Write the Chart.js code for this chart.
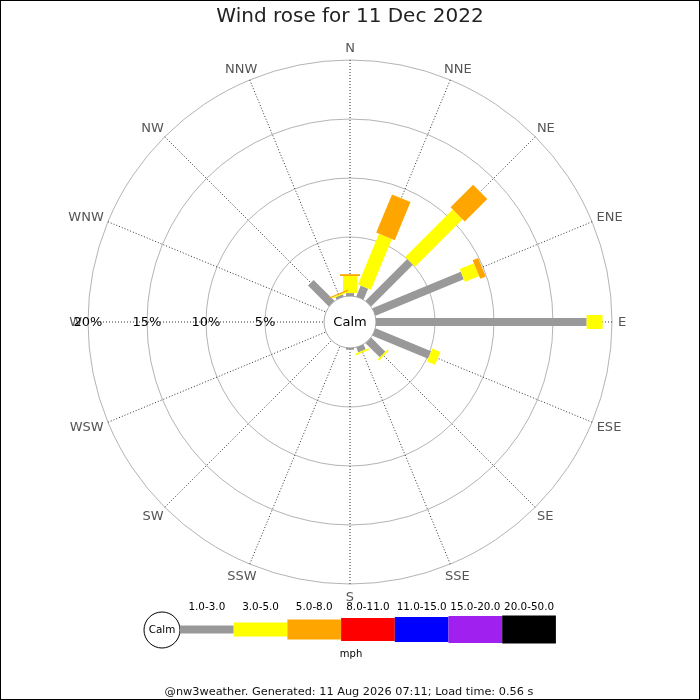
<!DOCTYPE html>
<html>
<head>
<meta charset="utf-8">
<script src="https://cdn.jsdelivr.net/npm/chart.js@4.4.1/dist/chart.umd.min.js"></script>
<style>
  html, body { margin: 0; padding: 0; background: #fff; }
  #wrap { width: 700px; height: 700px; }
</style>
</head>
<body>
<div id="wrap"><canvas id="c" width="700" height="700"></canvas></div>
<script>
// ---- data ----
const directions = ['N','NNE','NE','ENE','E','ESE','SE','SSE','S','SSW','SW','WSW','W','WNW','NW','NNW'];
const speedBands = ['1.0-3.0','3.0-5.0','5.0-8.0','8.0-11.0','11.0-15.0','15.0-20.0','20.0-50.0'];
// percentage of time per direction, per speed band (mph)
const band1to3   = [0.25, 1.0, 5.0, 8.1, 17.85, 5.1, 1.7, 0.45, 0.15, 0, 0, 0, 0, 0, 2.5, 0.2];
const band3to5   = [1.45, 4.65, 5.7, 1.3, 1.35, 0.75, 0.15, 0.15, 0, 0, 0, 0, 0, 0, 0, 0.1];
const band5to8   = [0.15, 3.5, 2.7, 0.5, 0, 0, 0, 0, 0, 0, 0, 0, 0, 0, 0, 0.1];
const band8to11  = [0, 0, 0, 0, 0, 0, 0, 0, 0, 0, 0, 0, 0, 0, 0, 0];
const band11to15 = [0, 0, 0, 0, 0, 0, 0, 0, 0, 0, 0, 0, 0, 0, 0, 0];
const band15to20 = [0, 0, 0, 0, 0, 0, 0, 0, 0, 0, 0, 0, 0, 0, 0, 0];
const band20to50 = [0, 0, 0, 0, 0, 0, 0, 0, 0, 0, 0, 0, 0, 0, 0, 0];
const tickValues = [5, 10, 15, 20];
const titleText = 'Wind rose for 11 Dec 2022';
const footerText = '@nw3weather. Generated: 11 Aug 2026 07:11; Load time: 0.56 s';
const unitText = 'mph';
const calmText = 'Calm';

// ---- styles ----
const bandColors = ['#999999','#ffff00','#ffa500','#ff0000','#0000ff','#a020f0','#000000'];
const bandWidths = [8, 14, 20, 23, 25, 27, 28];
const FONT = "'DejaVu Sans', 'Noto Sans', sans-serif";
const R_MIN = -2.2; // keeps the calm circle in the middle

const bandData = [band1to3, band3to5, band5to8, band8to11, band11to15, band15to20, band20to50];
const datasets = bandData.map((arr, k) => ({
  label: speedBands[k],
  data: arr,
  barColor: bandColors[k],
  barWidth: bandWidths[k],
  showLine: false,
  fill: false,
  pointRadius: 0,
  pointHoverRadius: 0,
  borderWidth: 0,
  borderColor: 'rgba(0,0,0,0)',
  backgroundColor: 'rgba(0,0,0,0)'
}));

const rosePlugin = {
  id: 'rose',
  beforeDraw(chart) {
    const ctx = chart.ctx;
    ctx.save();
    ctx.fillStyle = '#ffffff';
    ctx.fillRect(0, 0, chart.width, chart.height);
    ctx.restore();
  },
  beforeDatasetsDraw(chart) {
    const s = chart.scales.r, ctx = chart.ctx;
    ctx.save();
    // direction labels
    ctx.font = '13px ' + FONT;
    ctx.fillStyle = '#555555';
    ctx.textAlign = 'center';
    ctx.textBaseline = 'middle';
    chart.data.labels.forEach((lab, i) => {
      const p = s.getPointPosition(i, s.drawingArea + 6);
      const w = ctx.measureText(lab).width, h = 13;
      const ux = Math.cos(p.angle), uy = Math.sin(p.angle);
      ctx.fillText(lab, p.x + ux * w / 2, p.y + uy * h / 2 + 1);
    });
    // tick labels along the west axis
    ctx.fillStyle = '#000000';
    tickValues.forEach(v => {
      const d = s.getDistanceFromCenterForValue(v);
      ctx.fillText(v + '%', s.xCenter - d, s.yCenter + 0.5);
    });
    // calm circle
    const rc = s.getDistanceFromCenterForValue(0);
    ctx.beginPath();
    ctx.arc(s.xCenter, s.yCenter, rc, 0, Math.PI * 2);
    ctx.fillStyle = '#ffffff';
    ctx.fill();
    ctx.lineWidth = 1;
    ctx.strokeStyle = '#aaaaaa';
    ctx.stroke();
    ctx.fillStyle = '#000000';
    ctx.font = '13px ' + FONT;
    ctx.fillText(calmText, s.xCenter, s.yCenter + 0.5);
    ctx.restore();
  },
  afterDatasetsDraw(chart) {
    const s = chart.scales.r, ctx = chart.ctx;
    ctx.save();
    chart.data.labels.forEach((lab, i) => {
      let cum = 0;
      chart.data.datasets.forEach(ds => {
        const v = ds.data[i];
        if (!v) return;
        const r0 = s.getDistanceFromCenterForValue(cum);
        cum += v;
        const r1 = s.getDistanceFromCenterForValue(cum);
        const p0 = s.getPointPosition(i, r0), p1 = s.getPointPosition(i, r1);
        const nx = -Math.sin(p0.angle), ny = Math.cos(p0.angle), hw = ds.barWidth / 2;
        ctx.beginPath();
        ctx.moveTo(p0.x + nx * hw, p0.y + ny * hw);
        ctx.lineTo(p1.x + nx * hw, p1.y + ny * hw);
        ctx.lineTo(p1.x - nx * hw, p1.y - ny * hw);
        ctx.lineTo(p0.x - nx * hw, p0.y - ny * hw);
        ctx.closePath();
        ctx.fillStyle = ds.barColor;
        ctx.fill();
      });
    });
    ctx.restore();
  },
  afterDraw(chart) {
    const ctx = chart.ctx;
    ctx.save();
    // legend
    const lx = 180, step = 53.7, ly = 629.5;
    ctx.beginPath();
    ctx.arc(162, 630, 18, 0, Math.PI * 2);
    ctx.fillStyle = '#fff';
    ctx.fill();
    ctx.strokeStyle = '#000';
    ctx.lineWidth = 1;
    ctx.stroke();
    ctx.fillStyle = '#000';
    ctx.font = '10.4px ' + FONT;
    ctx.textAlign = 'center';
    ctx.textBaseline = 'middle';
    ctx.fillText(calmText, 162, 630.5);
    chart.data.datasets.forEach((ds, k) => {
      const x0 = lx + k * step;
      ctx.fillStyle = ds.barColor;
      ctx.fillRect(x0, ly - ds.barWidth / 2, step, ds.barWidth);
      ctx.fillStyle = '#000';
      ctx.fillText(ds.label, x0 + step / 2, 607);
    });
    ctx.font = '10px ' + FONT;
    ctx.fillText(unitText, 351, 654);
    // footer
    ctx.font = '11.3px ' + FONT;
    ctx.fillStyle = '#111';
    ctx.fillText(footerText, 349, 692);
    // frame
    ctx.strokeStyle = '#000';
    ctx.lineWidth = 1;
    ctx.strokeRect(0.5, 0.5, chart.width - 1, chart.height - 1);
    ctx.restore();
  }
};

new Chart(document.getElementById('c'), {
  type: 'radar',
  data: { labels: directions, datasets: datasets },
  options: {
    responsive: false,
    animation: false,
    devicePixelRatio: 1,
    layout: { padding: { left: 88, right: 88, top: 0, bottom: 116 } },
    plugins: {
      legend: { display: false },
      tooltip: { enabled: false },
      title: {
        display: true,
        text: titleText,
        color: '#222',
        font: { family: FONT, size: 20, weight: 'normal' },
        padding: { top: 5, bottom: 31 }
      }
    },
    scales: {
      r: {
        min: R_MIN,
        max: 20,
        startAngle: 0,
        afterBuildTicks: (scale) => {
          scale.ticks = [{ value: R_MIN }].concat(tickValues.map(v => ({ value: v })));
        },
        ticks: { display: false },
        pointLabels: { display: false },
        grid: {
          circular: true,
          color: (c) => (c.tick && c.tick.value < 0) ? 'rgba(0,0,0,0)' : '#b4b4b4',
          lineWidth: 1
        },
        angleLines: {
          display: true,
          color: '#333',
          lineWidth: 1,
          borderDash: [1, 2]
        }
      }
    }
  },
  plugins: [rosePlugin]
});
</script>
</body>
</html>
